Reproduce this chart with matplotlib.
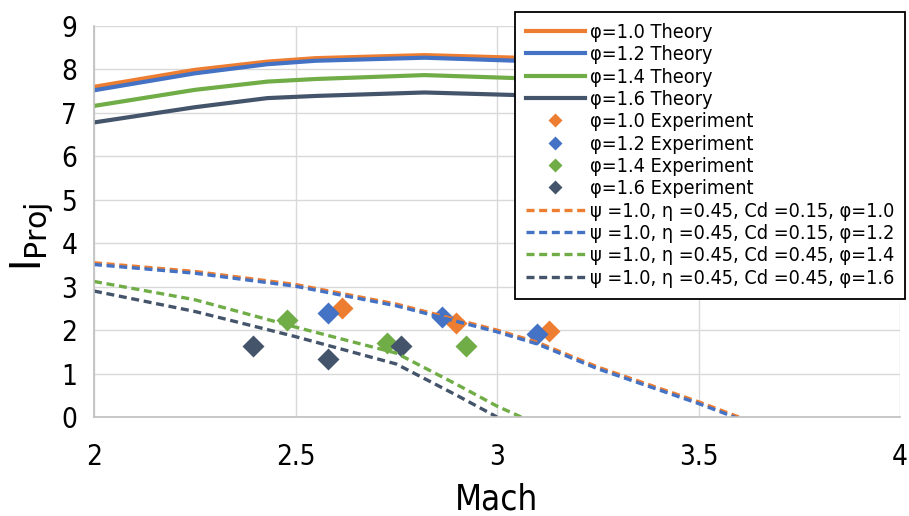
import numpy as np
import matplotlib
matplotlib.use('Agg')
import matplotlib.pyplot as plt
from matplotlib import font_manager
from matplotlib.font_manager import FontProperties

# look for a condensed face (the reference text is narrow); fall back to Liberation Sans
_cond = [f for f in font_manager.fontManager.ttflist
         if 'condensed' in str(f.stretch).lower() or 'Narrow' in f.name or 'Condensed' in f.fname]
_cond = [f for f in _cond if 'Bold' not in f.fname and 'Oblique' not in f.fname and 'Italic' not in f.fname]
if _cond:
    FP = FontProperties(fname=_cond[0].fname)
    HAVE_COND = True
else:
    FP = FontProperties(family=['Liberation Sans', 'DejaVu Sans'])
    HAVE_COND = False
plt.rcParams['font.family'] = ['Liberation Sans', 'DejaVu Sans']

# colours (Excel office palette)
C_OR = '#ED7D31'
C_BL = '#4472C4'
C_GR = '#70AD47'
C_DK = '#44546A'

# theory curves
mach_theory = [2.0, 2.25, 2.43, 2.55, 2.82, 3.05, 3.2]
th_10 = [7.60, 7.99, 8.18, 8.26, 8.33, 8.27, 8.22]
th_12 = [7.52, 7.91, 8.12, 8.20, 8.27, 8.20, 8.15]
th_14 = [7.16, 7.53, 7.72, 7.78, 7.87, 7.80, 7.76]
th_16 = [6.78, 7.13, 7.34, 7.39, 7.47, 7.41, 7.37]

# experiment points
exp_m_10 = [2.615, 2.898, 3.13]
exp_i_10 = [2.50, 2.16, 1.97]
exp_m_12 = [2.58, 2.864, 3.10]
exp_i_12 = [2.40, 2.31, 1.91]
exp_m_14 = [2.478, 2.726, 2.923]
exp_i_14 = [2.24, 1.71, 1.64]
exp_m_16 = [2.395, 2.58, 2.763]
exp_i_16 = [1.64, 1.34, 1.64]

# model curves
mach_m1 = [2.0, 2.25, 2.5, 2.75, 3.0, 3.1, 3.25, 3.5, 3.6]
mod_10 = [3.55, 3.35, 3.05, 2.60, 2.00, 1.72, 1.15, 0.35, 0.0]
mod_12 = [3.51, 3.31, 3.01, 2.56, 1.96, 1.68, 1.11, 0.31, -0.04]
mach_m3 = [2.0, 2.25, 2.5, 2.75, 2.9, 3.0, 3.06]
mod_14 = [3.12, 2.70, 2.07, 1.47, 0.75, 0.25, 0.0]
mach_m4 = [2.0, 2.25, 2.5, 2.75, 2.9, 3.0]
mod_16 = [2.90, 2.43, 1.85, 1.22, 0.50, 0.0]


def fp(size):
    p = FP.copy()
    p.set_size(size)
    return p


fig = plt.figure(figsize=(9.09, 5.16), dpi=100)
ax = fig.add_axes([94 / 909, 1 - 417 / 516, (900 - 94) / 909, (417 - 26) / 516])

lw_th = 3.0
ax.plot(mach_theory, th_10, color=C_OR, lw=lw_th, label='φ=1.0 Theory')
ax.plot(mach_theory, th_12, color=C_BL, lw=lw_th, label='φ=1.2 Theory')
ax.plot(mach_theory, th_14, color=C_GR, lw=lw_th, label='φ=1.4 Theory')
ax.plot(mach_theory, th_16, color=C_DK, lw=lw_th, label='φ=1.6 Theory')

ms = 11.5
for m, v, c, lab in [(exp_m_10, exp_i_10, C_OR, 'φ=1.0 Experiment'),
                     (exp_m_12, exp_i_12, C_BL, 'φ=1.2 Experiment'),
                     (exp_m_14, exp_i_14, C_GR, 'φ=1.4 Experiment'),
                     (exp_m_16, exp_i_16, C_DK, 'φ=1.6 Experiment')]:
    ax.plot(m, v, ls='none', marker='D', ms=ms, color=c, mec='none', label=lab)

dash = (0, (2.4, 1.4))
lw_m = 2.4
ax.plot(mach_m1, mod_10, color=C_OR, lw=lw_m, ls=dash, label='ψ =1.0, η =0.45, Cd =0.15, φ=1.0')
ax.plot(mach_m1, mod_12, color=C_BL, lw=lw_m, ls=dash, label='ψ =1.0, η =0.45, Cd =0.15, φ=1.2')
ax.plot(mach_m3, mod_14, color=C_GR, lw=lw_m, ls=dash, label='ψ =1.0, η =0.45, Cd =0.45, φ=1.4')
ax.plot(mach_m4, mod_16, color=C_DK, lw=lw_m, ls=dash, label='ψ =1.0, η =0.45, Cd =0.45, φ=1.6')

ax.set_xlim(2, 4)
ax.set_ylim(0, 9)
ax.set_xticks([2, 2.5, 3, 3.5, 4])
ax.set_xticklabels(['2', '2.5', '3', '3.5', '4'])
ax.set_yticks(range(10))
ax.grid(True, color='#D9D9D9', lw=1.0)
ax.set_axisbelow(True)
for s in ['top', 'right']:
    ax.spines[s].set_visible(False)
for s in ['left', 'bottom']:
    ax.spines[s].set_color('#BFBFBF')
    ax.spines[s].set_linewidth(1.2)
ax.tick_params(length=0)
ax.tick_params(axis='x', pad=19)
ax.tick_params(axis='y', pad=12)
for lbl in ax.get_xticklabels() + ax.get_yticklabels():
    lbl.set_fontproperties(fp(20))

ax.set_xlabel('Mach', fontproperties=fp(25), labelpad=8)

# y label: "I" with subscript "Proj"
ax.set_ylabel(r'I$_{\mathrm{Proj}}$', fontproperties=fp(31))
ax.yaxis.set_label_coords(-0.047, 0.46)

leg = ax.legend(loc='upper right', bbox_to_anchor=(905 / 909, 1 - 12 / 516),
                bbox_transform=fig.transFigure, borderaxespad=0,
                prop=fp(14.2 if HAVE_COND else 14), frameon=True, fancybox=False,
                framealpha=1, edgecolor='black', handlelength=3.0,
                handletextpad=0.25, labelspacing=0.17,
                borderpad=0.55, markerscale=0.65)
leg.get_frame().set_linewidth(1.3)

fig.savefig('out.png', dpi=100, facecolor='white')
